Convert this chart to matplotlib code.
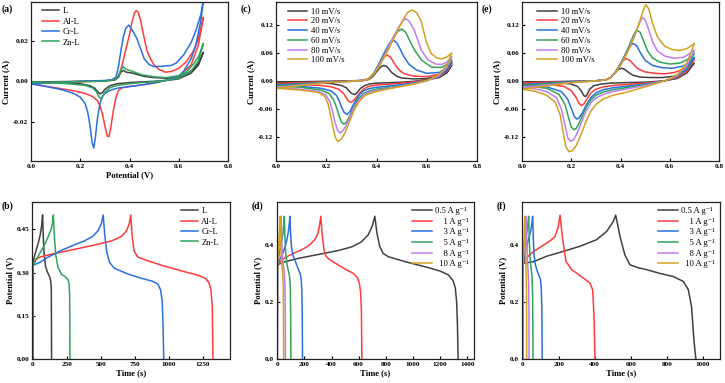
import matplotlib
matplotlib.use("Agg")
import matplotlib.pyplot as plt
from matplotlib.ticker import FormatStrFormatter

plt.rcParams['font.family'] = ['Liberation Serif', 'DejaVu Serif']
plt.rcParams['mathtext.fontset'] = 'stix'

# ---------------- colours ----------------
C_K = '#404040'
C_R = '#ff3b3b'
C_B = '#2a6fe0'
C_G = '#2ea35c'
C_P = '#c07cf0'
C_Y = '#d4a020'

# ---------------- panel (a) CV of L, Al-L, Cr-L, Zn-L ----------------
a_labels = ['L', 'Al-L', 'Cr-L', 'Zn-L']
a_L_up_E = [0.0, 0.1, 0.2, 0.3, 0.34, 0.355, 0.365, 0.375, 0.385, 0.395, 0.41, 0.43, 0.46, 0.5, 0.55, 0.6, 0.63, 0.66, 0.68, 0.7]
a_L_up_I = [-0.0004, -0.0002, 0.0, 0.0002, 0.0006, 0.0020, 0.0045, 0.0054, 0.0046, 0.0043, 0.0041, 0.0034, 0.0024, 0.0018, 0.0015, 0.0022, 0.0035, 0.0060, 0.0090, 0.0143]
a_L_dn_E = [0.7, 0.68, 0.65, 0.6, 0.55, 0.5, 0.45, 0.4, 0.35, 0.32, 0.3, 0.29, 0.28, 0.27, 0.26, 0.24, 0.2, 0.15, 0.1, 0.05, 0.0]
a_L_dn_I = [0.0143, 0.0080, 0.0040, 0.0012, 0.0004, 0.0, -0.0003, -0.0006, -0.0012, -0.0022, -0.0040, -0.0056, -0.0062, -0.0050, -0.0035, -0.0022, -0.0012, -0.0008, -0.0006, -0.0005, -0.0004]

a_Al_up_E = [0.0, 0.1, 0.2, 0.3, 0.33, 0.35, 0.36, 0.37, 0.38, 0.39, 0.40, 0.41, 0.42, 0.427, 0.435, 0.445, 0.455, 0.47, 0.485, 0.5, 0.52, 0.545, 0.57, 0.6, 0.63, 0.66, 0.68, 0.7]
a_Al_up_I = [-0.0010, -0.0006, -0.0002, 0.0002, 0.0008, 0.0020, 0.0040, 0.0080, 0.0130, 0.0180, 0.0230, 0.0290, 0.0335, 0.0348, 0.0340, 0.0300, 0.0240, 0.0155, 0.0110, 0.0080, 0.0058, 0.0045, 0.0048, 0.0064, 0.0095, 0.0150, 0.0210, 0.0315]
a_Al_dn_E = [0.7, 0.68, 0.65, 0.6, 0.55, 0.5, 0.45, 0.4, 0.37, 0.355, 0.345, 0.335, 0.325, 0.317, 0.31, 0.3, 0.29, 0.28, 0.27, 0.25, 0.22, 0.18, 0.1, 0.05, 0.0]
a_Al_dn_I = [0.0315, 0.0180, 0.0080, 0.0025, 0.0005, -0.0008, -0.0018, -0.0025, -0.0032, -0.0045, -0.0080, -0.0140, -0.0220, -0.0272, -0.0270, -0.0220, -0.0160, -0.0120, -0.0095, -0.0075, -0.0060, -0.0048, -0.0032, -0.0022, -0.0012]

a_Cr_up_E = [0.0, 0.1, 0.2, 0.3, 0.33, 0.345, 0.355, 0.365, 0.375, 0.385, 0.397, 0.405, 0.415, 0.43, 0.445, 0.46, 0.48, 0.5, 0.53, 0.57, 0.59, 0.62, 0.65, 0.67, 0.69, 0.7]
a_Cr_up_I = [-0.0013, -0.0006, 0.0, 0.0004, 0.0008, 0.0020, 0.0070, 0.0150, 0.0220, 0.0260, 0.0277, 0.0262, 0.0244, 0.0210, 0.0160, 0.0110, 0.0082, 0.0072, 0.0074, 0.0078, 0.0090, 0.0130, 0.0190, 0.0250, 0.0330, 0.0400]
a_Cr_dn_E = [0.7, 0.69, 0.67, 0.65, 0.62, 0.6, 0.55, 0.5, 0.45, 0.4, 0.35, 0.32, 0.3, 0.29, 0.28, 0.27, 0.262, 0.255, 0.248, 0.24, 0.23, 0.22, 0.2, 0.17, 0.13, 0.1, 0.05, 0.0]
a_Cr_dn_I = [0.0400, 0.0300, 0.0180, 0.0110, 0.0050, 0.0025, 0.0005, -0.0008, -0.0018, -0.0026, -0.0034, -0.0045, -0.0060, -0.0075, -0.0110, -0.0180, -0.0270, -0.0328, -0.0300, -0.0220, -0.0150, -0.0110, -0.0078, -0.0058, -0.0043, -0.0035, -0.0023, -0.0013]

a_Zn_up_E = [0.0, 0.1, 0.2, 0.3, 0.34, 0.355, 0.365, 0.375, 0.385, 0.395, 0.405, 0.42, 0.45, 0.5, 0.55, 0.6, 0.63, 0.66, 0.68, 0.7]
a_Zn_up_I = [-0.0005, -0.0004, -0.0002, 0.0, 0.0008, 0.0025, 0.0055, 0.0072, 0.0060, 0.0055, 0.0052, 0.0045, 0.0032, 0.0022, 0.0018, 0.0028, 0.0045, 0.0085, 0.0120, 0.0187]
a_Zn_dn_E = [0.7, 0.68, 0.65, 0.6, 0.55, 0.5, 0.45, 0.4, 0.35, 0.32, 0.3, 0.29, 0.283, 0.275, 0.265, 0.25, 0.22, 0.15, 0.1, 0.05, 0.0]
a_Zn_dn_I = [0.0187, 0.0100, 0.0050, 0.0015, 0.0005, -0.0002, -0.0006, -0.0012, -0.0020, -0.0032, -0.0055, -0.0075, -0.0084, -0.0075, -0.0050, -0.0032, -0.0020, -0.0012, -0.0009, -0.0007, -0.0005]

# ---------------- panel (c) CV at scan rates ----------------
rate_labels = ['10 mV/s', '20 mV/s', '40 mV/s', '60 mV/s', '80 mV/s', '100 mV/s']
c10_up_E = [0.0, 0.1, 0.2, 0.3, 0.35, 0.37, 0.385, 0.40, 0.41, 0.42, 0.429, 0.44, 0.45, 0.46, 0.48, 0.5, 0.55, 0.6, 0.65, 0.68, 0.7]
c10_up_I = [-0.002, -0.001, 0.0, 0.001, 0.002, 0.004, 0.010, 0.020, 0.027, 0.032, 0.034, 0.032, 0.026, 0.019, 0.011, 0.007, 0.005, 0.006, 0.011, 0.019, 0.035]
c10_dn_E = [0.7, 0.68, 0.65, 0.6, 0.55, 0.5, 0.45, 0.4, 0.37, 0.35, 0.335, 0.325, 0.314, 0.30, 0.29, 0.28, 0.26, 0.22, 0.15, 0.1, 0.05, 0.0]
c10_dn_I = [0.035, 0.018, 0.008, 0.003, 0.0, -0.002, -0.003, -0.004, -0.006, -0.010, -0.016, -0.023, -0.0286, -0.026, -0.020, -0.014, -0.009, -0.005, -0.003, -0.0025, -0.002, -0.002]

c20_up_E = [0.0, 0.1, 0.2, 0.3, 0.35, 0.37, 0.385, 0.40, 0.415, 0.43, 0.443, 0.455, 0.465, 0.475, 0.49, 0.51, 0.55, 0.6, 0.65, 0.68, 0.7]
c20_up_I = [-0.005, -0.003, -0.001, 0.0, 0.002, 0.005, 0.012, 0.025, 0.040, 0.052, 0.056, 0.052, 0.044, 0.035, 0.024, 0.016, 0.011, 0.010, 0.015, 0.024, 0.039]
c20_dn_E = [0.7, 0.68, 0.65, 0.6, 0.55, 0.5, 0.45, 0.4, 0.37, 0.35, 0.33, 0.315, 0.30, 0.29, 0.28, 0.27, 0.25, 0.22, 0.18, 0.1, 0.05, 0.0]
c20_dn_I = [0.039, 0.022, 0.010, 0.003, -0.001, -0.004, -0.006, -0.008, -0.011, -0.016, -0.027, -0.038, -0.045, -0.043, -0.036, -0.027, -0.017, -0.012, -0.009, -0.007, -0.006, -0.005]

c40_up_E = [0.0, 0.1, 0.2, 0.3, 0.35, 0.37, 0.39, 0.41, 0.43, 0.45, 0.467, 0.48, 0.495, 0.51, 0.53, 0.56, 0.6, 0.65, 0.68, 0.7]
c40_up_I = [-0.008, -0.005, -0.002, 0.0, 0.002, 0.006, 0.018, 0.038, 0.060, 0.080, 0.088, 0.083, 0.068, 0.052, 0.036, 0.024, 0.017, 0.019, 0.028, 0.042]
c40_dn_E = [0.7, 0.68, 0.65, 0.6, 0.55, 0.5, 0.45, 0.4, 0.37, 0.35, 0.33, 0.31, 0.295, 0.283, 0.27, 0.26, 0.25, 0.24, 0.22, 0.18, 0.1, 0.0]
c40_dn_I = [0.042, 0.024, 0.010, 0.002, -0.003, -0.007, -0.010, -0.013, -0.016, -0.020, -0.030, -0.048, -0.064, -0.0714, -0.066, -0.054, -0.040, -0.030, -0.021, -0.015, -0.011, -0.008]

c60_up_E = [0.0, 0.1, 0.2, 0.3, 0.35, 0.37, 0.39, 0.41, 0.43, 0.45, 0.47, 0.485, 0.50, 0.515, 0.53, 0.55, 0.58, 0.62, 0.66, 0.68, 0.7]
c60_up_I = [-0.010, -0.006, -0.002, 0.0, 0.002, 0.006, 0.018, 0.036, 0.057, 0.078, 0.097, 0.107, 0.112, 0.106, 0.090, 0.068, 0.045, 0.030, 0.030, 0.036, 0.046]
c60_dn_E = [0.7, 0.68, 0.65, 0.6, 0.55, 0.5, 0.45, 0.4, 0.37, 0.35, 0.33, 0.31, 0.29, 0.28, 0.27, 0.26, 0.25, 0.24, 0.23, 0.21, 0.18, 0.1, 0.0]
c60_dn_I = [0.046, 0.028, 0.012, 0.002, -0.004, -0.009, -0.013, -0.017, -0.021, -0.026, -0.036, -0.055, -0.078, -0.088, -0.092, -0.087, -0.072, -0.055, -0.040, -0.026, -0.019, -0.013, -0.010]

c80_up_E = [0.0, 0.1, 0.2, 0.3, 0.35, 0.37, 0.39, 0.41, 0.43, 0.45, 0.47, 0.49, 0.505, 0.517, 0.53, 0.55, 0.578, 0.605, 0.635, 0.66, 0.68, 0.7]
c80_up_I = [-0.013, -0.008, -0.003, 0.0, 0.002, 0.006, 0.017, 0.034, 0.054, 0.076, 0.098, 0.118, 0.130, 0.134, 0.129, 0.110, 0.067, 0.046, 0.037, 0.036, 0.041, 0.053]
c80_dn_E = [0.7, 0.68, 0.65, 0.6, 0.55, 0.5, 0.45, 0.4, 0.37, 0.35, 0.33, 0.31, 0.29, 0.275, 0.263, 0.254, 0.245, 0.235, 0.225, 0.215, 0.2, 0.17, 0.1, 0.0]
c80_dn_I = [0.053, 0.030, 0.012, 0.001, -0.005, -0.010, -0.015, -0.020, -0.024, -0.029, -0.040, -0.058, -0.082, -0.099, -0.108, -0.111, -0.105, -0.088, -0.065, -0.045, -0.030, -0.022, -0.017, -0.013]

c100_up_E = [0.0, 0.1, 0.2, 0.3, 0.35, 0.37, 0.39, 0.41, 0.43, 0.45, 0.47, 0.49, 0.51, 0.525, 0.541, 0.56, 0.578, 0.598, 0.617, 0.64, 0.66, 0.68, 0.7]
c100_up_I = [-0.015, -0.009, -0.003, 0.0, 0.002, 0.006, 0.016, 0.031, 0.050, 0.071, 0.093, 0.115, 0.136, 0.148, 0.153, 0.147, 0.128, 0.085, 0.060, 0.050, 0.048, 0.052, 0.061]
c100_dn_E = [0.7, 0.68, 0.65, 0.6, 0.55, 0.5, 0.45, 0.4, 0.37, 0.35, 0.33, 0.31, 0.29, 0.275, 0.26, 0.247, 0.237, 0.228, 0.218, 0.208, 0.195, 0.17, 0.1, 0.0]
c100_dn_I = [0.061, 0.035, 0.014, 0.001, -0.006, -0.011, -0.016, -0.022, -0.027, -0.032, -0.044, -0.063, -0.090, -0.110, -0.124, -0.129, -0.122, -0.102, -0.075, -0.050, -0.033, -0.024, -0.019, -0.015]

# ---------------- panel (e) CV at scan rates ----------------
e10_up_E = [0.0, 0.1, 0.2, 0.3, 0.34, 0.36, 0.375, 0.39, 0.404, 0.415, 0.43, 0.45, 0.48, 0.52, 0.57, 0.62, 0.66, 0.7]
e10_up_I = [-0.0015, -0.001, 0.0, 0.001, 0.003, 0.008, 0.017, 0.025, 0.028, 0.026, 0.020, 0.013, 0.009, 0.008, 0.008, 0.011, 0.020, 0.039]
e10_dn_E = [0.7, 0.67, 0.63, 0.58, 0.5, 0.42, 0.36, 0.32, 0.29, 0.275, 0.265, 0.258, 0.25, 0.24, 0.225, 0.2, 0.15, 0.1, 0.0]
e10_dn_I = [0.039, 0.018, 0.006, 0.001, -0.002, -0.003, -0.004, -0.006, -0.010, -0.017, -0.028, -0.033, -0.030, -0.020, -0.011, -0.006, -0.003, -0.002, -0.0015]

e20_up_E = [0.0, 0.1, 0.2, 0.3, 0.34, 0.36, 0.38, 0.395, 0.41, 0.422, 0.435, 0.45, 0.47, 0.5, 0.54, 0.58, 0.62, 0.66, 0.7]
e20_up_I = [-0.004, -0.002, -0.001, 0.001, 0.003, 0.008, 0.020, 0.033, 0.044, 0.0486, 0.046, 0.038, 0.027, 0.020, 0.017, 0.016, 0.019, 0.027, 0.046]
e20_dn_E = [0.7, 0.67, 0.63, 0.58, 0.5, 0.42, 0.37, 0.33, 0.3, 0.28, 0.265, 0.252, 0.242, 0.232, 0.22, 0.2, 0.17, 0.1, 0.0]
e20_dn_I = [0.046, 0.022, 0.008, 0.001, -0.004, -0.007, -0.009, -0.012, -0.017, -0.025, -0.037, -0.048, -0.052, -0.048, -0.035, -0.020, -0.011, -0.006, -0.004]

e40_up_E = [0.0, 0.1, 0.2, 0.3, 0.34, 0.36, 0.38, 0.4, 0.415, 0.43, 0.449, 0.465, 0.48, 0.5, 0.53, 0.57, 0.61, 0.65, 0.68, 0.7]
e40_up_I = [-0.007, -0.004, -0.001, 0.001, 0.003, 0.008, 0.020, 0.038, 0.053, 0.068, 0.081, 0.077, 0.062, 0.045, 0.034, 0.029, 0.028, 0.032, 0.040, 0.051]
e40_dn_E = [0.7, 0.67, 0.63, 0.58, 0.5, 0.42, 0.37, 0.33, 0.3, 0.28, 0.26, 0.245, 0.233, 0.223, 0.213, 0.2, 0.185, 0.16, 0.1, 0.0]
e40_dn_I = [0.051, 0.026, 0.010, 0.001, -0.006, -0.011, -0.014, -0.018, -0.025, -0.035, -0.052, -0.068, -0.078, -0.081, -0.076, -0.058, -0.038, -0.022, -0.012, -0.007]

e60_up_E = [0.0, 0.1, 0.2, 0.3, 0.34, 0.36, 0.38, 0.4, 0.42, 0.44, 0.455, 0.465, 0.48, 0.495, 0.51, 0.53, 0.56, 0.6, 0.64, 0.67, 0.7]
e60_up_I = [-0.009, -0.005, -0.002, 0.001, 0.003, 0.008, 0.020, 0.037, 0.058, 0.083, 0.101, 0.110, 0.105, 0.085, 0.065, 0.050, 0.041, 0.037, 0.039, 0.046, 0.060]
e60_dn_E = [0.7, 0.67, 0.63, 0.58, 0.5, 0.42, 0.37, 0.33, 0.3, 0.28, 0.26, 0.245, 0.23, 0.22, 0.211, 0.2, 0.19, 0.175, 0.15, 0.1, 0.0]
e60_dn_I = [0.060, 0.030, 0.011, 0.001, -0.007, -0.014, -0.018, -0.023, -0.030, -0.040, -0.056, -0.074, -0.092, -0.101, -0.104, -0.098, -0.080, -0.050, -0.028, -0.015, -0.009]

e80_up_E = [0.0, 0.1, 0.2, 0.3, 0.34, 0.36, 0.38, 0.4, 0.42, 0.44, 0.46, 0.475, 0.488, 0.5, 0.515, 0.53, 0.55, 0.58, 0.62, 0.66, 0.7]
e80_up_I = [-0.013, -0.008, -0.003, 0.001, 0.003, 0.008, 0.019, 0.035, 0.055, 0.078, 0.103, 0.122, 0.137, 0.132, 0.110, 0.085, 0.065, 0.054, 0.049, 0.052, 0.067]
e80_dn_E = [0.7, 0.67, 0.63, 0.58, 0.5, 0.42, 0.37, 0.33, 0.3, 0.28, 0.26, 0.24, 0.225, 0.21, 0.197, 0.185, 0.175, 0.16, 0.14, 0.1, 0.05, 0.0]
e80_dn_I = [0.067, 0.034, 0.012, 0.001, -0.009, -0.017, -0.022, -0.028, -0.036, -0.046, -0.064, -0.090, -0.110, -0.125, -0.129, -0.120, -0.095, -0.060, -0.035, -0.022, -0.016, -0.013]

e100_up_E = [0.0, 0.1, 0.2, 0.3, 0.34, 0.36, 0.38, 0.4, 0.42, 0.44, 0.46, 0.48, 0.495, 0.503, 0.515, 0.53, 0.55, 0.58, 0.61, 0.64, 0.67, 0.7]
e100_up_I = [-0.017, -0.010, -0.003, 0.001, 0.003, 0.008, 0.019, 0.034, 0.053, 0.075, 0.100, 0.132, 0.156, 0.164, 0.155, 0.125, 0.095, 0.075, 0.068, 0.066, 0.070, 0.081]
e100_dn_E = [0.7, 0.67, 0.63, 0.58, 0.5, 0.42, 0.37, 0.33, 0.3, 0.28, 0.26, 0.24, 0.22, 0.205, 0.19, 0.178, 0.168, 0.155, 0.135, 0.1, 0.05, 0.0]
e100_dn_I = [0.081, 0.040, 0.014, 0.001, -0.012, -0.024, -0.030, -0.038, -0.050, -0.064, -0.086, -0.114, -0.138, -0.149, -0.151, -0.140, -0.112, -0.072, -0.045, -0.030, -0.021, -0.017]

# ---------------- panel (b) GCD of four samples ----------------
b_L_t = [0, 1, 15, 30, 45, 55, 65, 73, 78, 85, 95, 110, 125, 133, 137, 139]
b_L_V = [0, 0.335, 0.36, 0.385, 0.41, 0.43, 0.46, 0.50, 0.42, 0.36, 0.32, 0.30, 0.285, 0.27, 0.24, 0.0]
b_Al_t = [0, 1, 20, 60, 150, 300, 450, 580, 650, 690, 710, 721, 730, 745, 770, 820, 950, 1100, 1220, 1270, 1295, 1310, 1320, 1325]
b_Al_V = [0, 0.32, 0.345, 0.355, 0.365, 0.38, 0.395, 0.41, 0.425, 0.445, 0.47, 0.5, 0.43, 0.375, 0.355, 0.345, 0.325, 0.305, 0.29, 0.28, 0.265, 0.24, 0.18, 0.0]
b_Cr_t = [0, 1, 50, 100, 200, 300, 380, 440, 480, 505, 518, 530, 545, 565, 600, 700, 800, 880, 920, 940, 952, 958, 963]
b_Cr_V = [0, 0.325, 0.335, 0.35, 0.375, 0.395, 0.41, 0.425, 0.445, 0.47, 0.5, 0.43, 0.37, 0.335, 0.315, 0.295, 0.28, 0.27, 0.26, 0.24, 0.2, 0.12, 0.0]
b_Zn_t = [0, 1, 25, 50, 80, 110, 135, 145, 152, 160, 170, 185, 210, 240, 260, 268, 272, 274]
b_Zn_V = [0, 0.32, 0.345, 0.365, 0.39, 0.42, 0.45, 0.47, 0.5, 0.42, 0.36, 0.32, 0.295, 0.285, 0.275, 0.26, 0.22, 0.0]

# ---------------- panel (d) GCD at current densities ----------------
cd_labels = ['0.5 A g\u207b\u00b9', '    1 A g\u207b\u00b9', '    3 A g\u207b\u00b9',
             '    5 A g\u207b\u00b9', '    8 A g\u207b\u00b9', '  10 A g\u207b\u00b9']
d05_t = [0, 1, 50, 150, 300, 450, 550, 620, 670, 700, 719, 735, 755, 780, 820, 950, 1100, 1200, 1260, 1295, 1312, 1322, 1328, 1333]
d05_V = [0, 0.33, 0.34, 0.352, 0.366, 0.38, 0.393, 0.41, 0.435, 0.465, 0.5, 0.44, 0.395, 0.37, 0.358, 0.34, 0.322, 0.308, 0.295, 0.275, 0.25, 0.2, 0.12, 0.0]
d1_t = [0, 1, 20, 60, 120, 190, 240, 280, 300, 312, 321, 330, 345, 360, 385, 430, 500, 560, 590, 605, 614, 620, 624]
d1_V = [0, 0.325, 0.34, 0.356, 0.37, 0.385, 0.4, 0.42, 0.44, 0.47, 0.5, 0.44, 0.38, 0.36, 0.348, 0.335, 0.315, 0.3, 0.285, 0.265, 0.235, 0.17, 0.0]
d3_t = [0, 1, 20, 45, 65, 80, 90, 93, 98, 105, 118, 135, 155, 168, 176, 181, 184, 186]
d3_V = [0, 0.33, 0.35, 0.375, 0.405, 0.44, 0.48, 0.5, 0.44, 0.39, 0.36, 0.34, 0.315, 0.3, 0.28, 0.24, 0.15, 0.0]
d5_t = [0, 1, 15, 30, 42, 49, 52, 56, 62, 72, 84, 92, 96, 99, 100]
d5_V = [0, 0.33, 0.37, 0.405, 0.44, 0.48, 0.5, 0.43, 0.37, 0.33, 0.305, 0.285, 0.25, 0.15, 0.0]
d8_t = [0, 1, 10, 20, 26, 29, 32, 37, 45, 52, 57, 59, 60]
d8_V = [0, 0.33, 0.38, 0.43, 0.475, 0.5, 0.43, 0.37, 0.33, 0.3, 0.26, 0.15, 0.0]
d10_t = [0, 1, 8, 15, 19, 21, 24, 28, 34, 40, 44, 46, 47]
d10_V = [0, 0.33, 0.39, 0.44, 0.48, 0.5, 0.43, 0.37, 0.33, 0.3, 0.26, 0.15, 0.0]

# ---------------- panel (f) GCD at current densities ----------------
f05_t = [0, 1, 30, 60, 133, 225, 318, 410, 466, 503, 516, 540, 567, 595, 640, 688, 760, 835, 891, 919, 937, 950, 961]
f05_V = [0, 0.335, 0.338, 0.341, 0.36, 0.377, 0.395, 0.418, 0.447, 0.482, 0.504, 0.429, 0.365, 0.33, 0.32, 0.313, 0.3, 0.289, 0.272, 0.243, 0.184, 0.068, 0.0]
f1_t = [0, 1, 30, 59, 100, 133, 160, 179, 198, 207, 222, 240, 272, 336, 373, 388, 396, 401]
f1_V = [0, 0.335, 0.36, 0.376, 0.393, 0.406, 0.418, 0.429, 0.464, 0.504, 0.418, 0.342, 0.313, 0.284, 0.266, 0.243, 0.149, 0.0]
f3_t = [0, 1, 15, 30, 45, 52, 55, 58, 62, 70, 85, 98, 103, 106, 108]
f3_V = [0, 0.33, 0.375, 0.415, 0.45, 0.48, 0.5, 0.44, 0.37, 0.33, 0.3, 0.28, 0.25, 0.18, 0.0]
f5_t = [0, 1, 10, 20, 28, 33, 36, 40, 46, 52, 55, 57]
f5_V = [0, 0.33, 0.38, 0.43, 0.47, 0.5, 0.43, 0.36, 0.32, 0.29, 0.22, 0.0]
f8_t = [0, 1, 8, 15, 19, 22, 26, 30, 33, 34.5, 35]
f8_V = [0, 0.33, 0.39, 0.45, 0.5, 0.42, 0.35, 0.31, 0.26, 0.15, 0.0]
f10_t = [0, 1, 5, 9, 12, 14, 17, 20, 21.5, 22]
f10_V = [0, 0.33, 0.39, 0.45, 0.5, 0.42, 0.34, 0.29, 0.2, 0.0]

# ---------------- figure ----------------
W, H = 725, 383
fig = plt.figure(figsize=(W / 100, H / 100), dpi=100)


def add_ax(l, t, r, b):
    return fig.add_axes([l / W, 1 - b / H, (r - l) / W, (b - t) / H])


TICK_FS = 5.2
LAB_FS = 6.2
LEG_FS = 6.2
LW = 1.1


def style(ax, xlim, ylim, xticks, yticks, xfmt, yfmt, xlabel, ylabel):
    ax.set_xlim(*xlim)
    ax.set_ylim(*ylim)
    ax.set_xticks(xticks)
    ax.set_yticks(yticks)
    ax.xaxis.set_major_formatter(FormatStrFormatter(xfmt))
    ax.yaxis.set_major_formatter(FormatStrFormatter(yfmt))
    ax.tick_params(direction='in', length=2.5, width=0.8, labelsize=TICK_FS, pad=2,
                   top=False, right=False)
    for lab in ax.get_xticklabels() + ax.get_yticklabels():
        lab.set_fontweight('bold')
    for s in ax.spines.values():
        s.set_linewidth(0.9)
        s.set_color('#222222')
    if xlabel:
        ax.set_xlabel(xlabel, fontsize=LAB_FS, fontweight='bold', labelpad=2)
    if ylabel:
        ax.set_ylabel(ylabel, fontsize=LAB_FS, fontweight='bold', labelpad=2)


def loop(ax, upE, upI, dnE, dnI, color, label):
    ax.plot(upE + dnE, upI + dnI, color=color, lw=LW, label=label)


cols6 = [C_K, C_R, C_B, C_G, C_P, C_Y]

# (a)
ax = add_ax(31, 2, 228, 161)
loop(ax, a_L_up_E, a_L_up_I, a_L_dn_E, a_L_dn_I, C_K, a_labels[0])
loop(ax, a_Al_up_E, a_Al_up_I, a_Al_dn_E, a_Al_dn_I, C_R, a_labels[1])
loop(ax, a_Cr_up_E, a_Cr_up_I, a_Cr_dn_E, a_Cr_dn_I, C_B, a_labels[2])
loop(ax, a_Zn_up_E, a_Zn_up_I, a_Zn_dn_E, a_Zn_dn_I, C_G, a_labels[3])
style(ax, (0, 0.8), (-0.0392, 0.039), [0, 0.2, 0.4, 0.6, 0.8], [-0.02, 0, 0.02],
      '%.1f', '%.2f', 'Potential (V)', 'Current (A)')
ax.legend(loc='upper left', bbox_to_anchor=(0.03, 1.0), frameon=False, fontsize=LEG_FS,
          handlelength=2.0, handletextpad=0.4, labelspacing=0.28, borderaxespad=0.2)
fig.text(2 / W, 1 - 9 / H, '(a)', fontsize=7, fontweight='bold', va='center')

# (c)
ax = add_ax(276, 2, 477, 161)
c_sets = [(c10_up_E, c10_up_I, c10_dn_E, c10_dn_I), (c20_up_E, c20_up_I, c20_dn_E, c20_dn_I),
          (c40_up_E, c40_up_I, c40_dn_E, c40_dn_I), (c60_up_E, c60_up_I, c60_dn_E, c60_dn_I),
          (c80_up_E, c80_up_I, c80_dn_E, c80_dn_I), (c100_up_E, c100_up_I, c100_dn_E, c100_dn_I)]
for (ue, ui, de, di), col, lab in zip(c_sets, cols6, rate_labels):
    loop(ax, ue, ui, de, di, col, lab)
style(ax, (0, 0.8), (-0.171, 0.17), [0, 0.2, 0.4, 0.6, 0.8], [-0.12, -0.06, 0, 0.06, 0.12],
      '%.1f', '%.2f', None, 'Current (A)')
ax.legend(loc='upper left', bbox_to_anchor=(0.03, 1.0), frameon=False, fontsize=LEG_FS,
          handlelength=2.3, handletextpad=0.4, labelspacing=0.2, borderaxespad=0.25)
fig.text(241 / W, 1 - 9 / H, '(c)', fontsize=7, fontweight='bold', va='center')

# (e)
ax = add_ax(522, 2, 719, 161)
e_sets = [(e10_up_E, e10_up_I, e10_dn_E, e10_dn_I), (e20_up_E, e20_up_I, e20_dn_E, e20_dn_I),
          (e40_up_E, e40_up_I, e40_dn_E, e40_dn_I), (e60_up_E, e60_up_I, e60_dn_E, e60_dn_I),
          (e80_up_E, e80_up_I, e80_dn_E, e80_dn_I), (e100_up_E, e100_up_I, e100_dn_E, e100_dn_I)]
for (ue, ui, de, di), col, lab in zip(e_sets, cols6, rate_labels):
    loop(ax, ue, ui, de, di, col, lab)
style(ax, (0, 0.8), (-0.171, 0.17), [0, 0.2, 0.4, 0.6, 0.8], [-0.12, -0.06, 0, 0.06, 0.12],
      '%.1f', '%.2f', None, 'Current (A)')
ax.legend(loc='upper left', bbox_to_anchor=(0.05, 1.0), frameon=False, fontsize=LEG_FS,
          handlelength=2.3, handletextpad=0.4, labelspacing=0.2, borderaxespad=0.25)
fig.text(482 / W, 1 - 9 / H, '(e)', fontsize=7, fontweight='bold', va='center')

# (b)
ax = add_ax(32, 202, 230, 359)
ax.plot(b_L_t, b_L_V, color=C_K, lw=LW, label=a_labels[0])
ax.plot(b_Al_t, b_Al_V, color=C_R, lw=LW, label=a_labels[1])
ax.plot(b_Cr_t, b_Cr_V, color=C_B, lw=LW, label=a_labels[2])
ax.plot(b_Zn_t, b_Zn_V, color=C_G, lw=LW, label=a_labels[3])
style(ax, (-5, 1450), (0, 0.545), [0, 250, 500, 750, 1000, 1250], [0, 0.15, 0.30, 0.45],
      '%d', '%.2f', 'Time (s)', 'Potential (V)')
ax.legend(loc='upper right', bbox_to_anchor=(0.97, 1.0), frameon=False, fontsize=LEG_FS,
          handlelength=2.0, handletextpad=0.4, labelspacing=0.28, borderaxespad=0.2)
fig.text(2 / W, 1 - 206 / H, '(b)', fontsize=7, fontweight='bold', va='center')

# (d)
ax = add_ax(277, 202, 474, 359)
d_sets = [(d05_t, d05_V), (d1_t, d1_V), (d3_t, d3_V), (d5_t, d5_V), (d8_t, d8_V), (d10_t, d10_V)]
for (tt, vv), col, lab in zip(d_sets, cols6, cd_labels):
    ax.plot(tt, vv, color=col, lw=LW, label=lab)
style(ax, (-2, 1450), (0, 0.55), list(range(0, 1401, 200)), [0.0, 0.2, 0.4],
      '%d', '%.1f', 'Time (s)', 'Potential (V)')
ax.legend(loc='upper right', bbox_to_anchor=(1.0, 1.0), frameon=False, fontsize=LEG_FS,
          handlelength=2.3, handletextpad=0.4, labelspacing=0.3, borderaxespad=0.2)
fig.text(252 / W, 1 - 206 / H, '(d)', fontsize=7, fontweight='bold', va='center')

# (f)
ax = add_ax(522, 202, 720, 359)
f_sets = [(f05_t, f05_V), (f1_t, f1_V), (f3_t, f3_V), (f5_t, f5_V), (f8_t, f8_V), (f10_t, f10_V)]
for (tt, vv), col, lab in zip(f_sets, cols6, cd_labels):
    ax.plot(tt, vv, color=col, lw=LW, label=lab)
style(ax, (-4, 1095), (0, 0.55), list(range(0, 1001, 200)), [0.0, 0.2, 0.4],
      '%d', '%.1f', 'Time (s)', 'Potential (V)')
ax.legend(loc='upper right', bbox_to_anchor=(1.0, 1.0), frameon=False, fontsize=LEG_FS,
          handlelength=2.3, handletextpad=0.4, labelspacing=0.3, borderaxespad=0.2)
fig.text(497 / W, 1 - 206 / H, '(f)', fontsize=7, fontweight='bold', va='center')

fig.savefig('out.png', dpi=100)
